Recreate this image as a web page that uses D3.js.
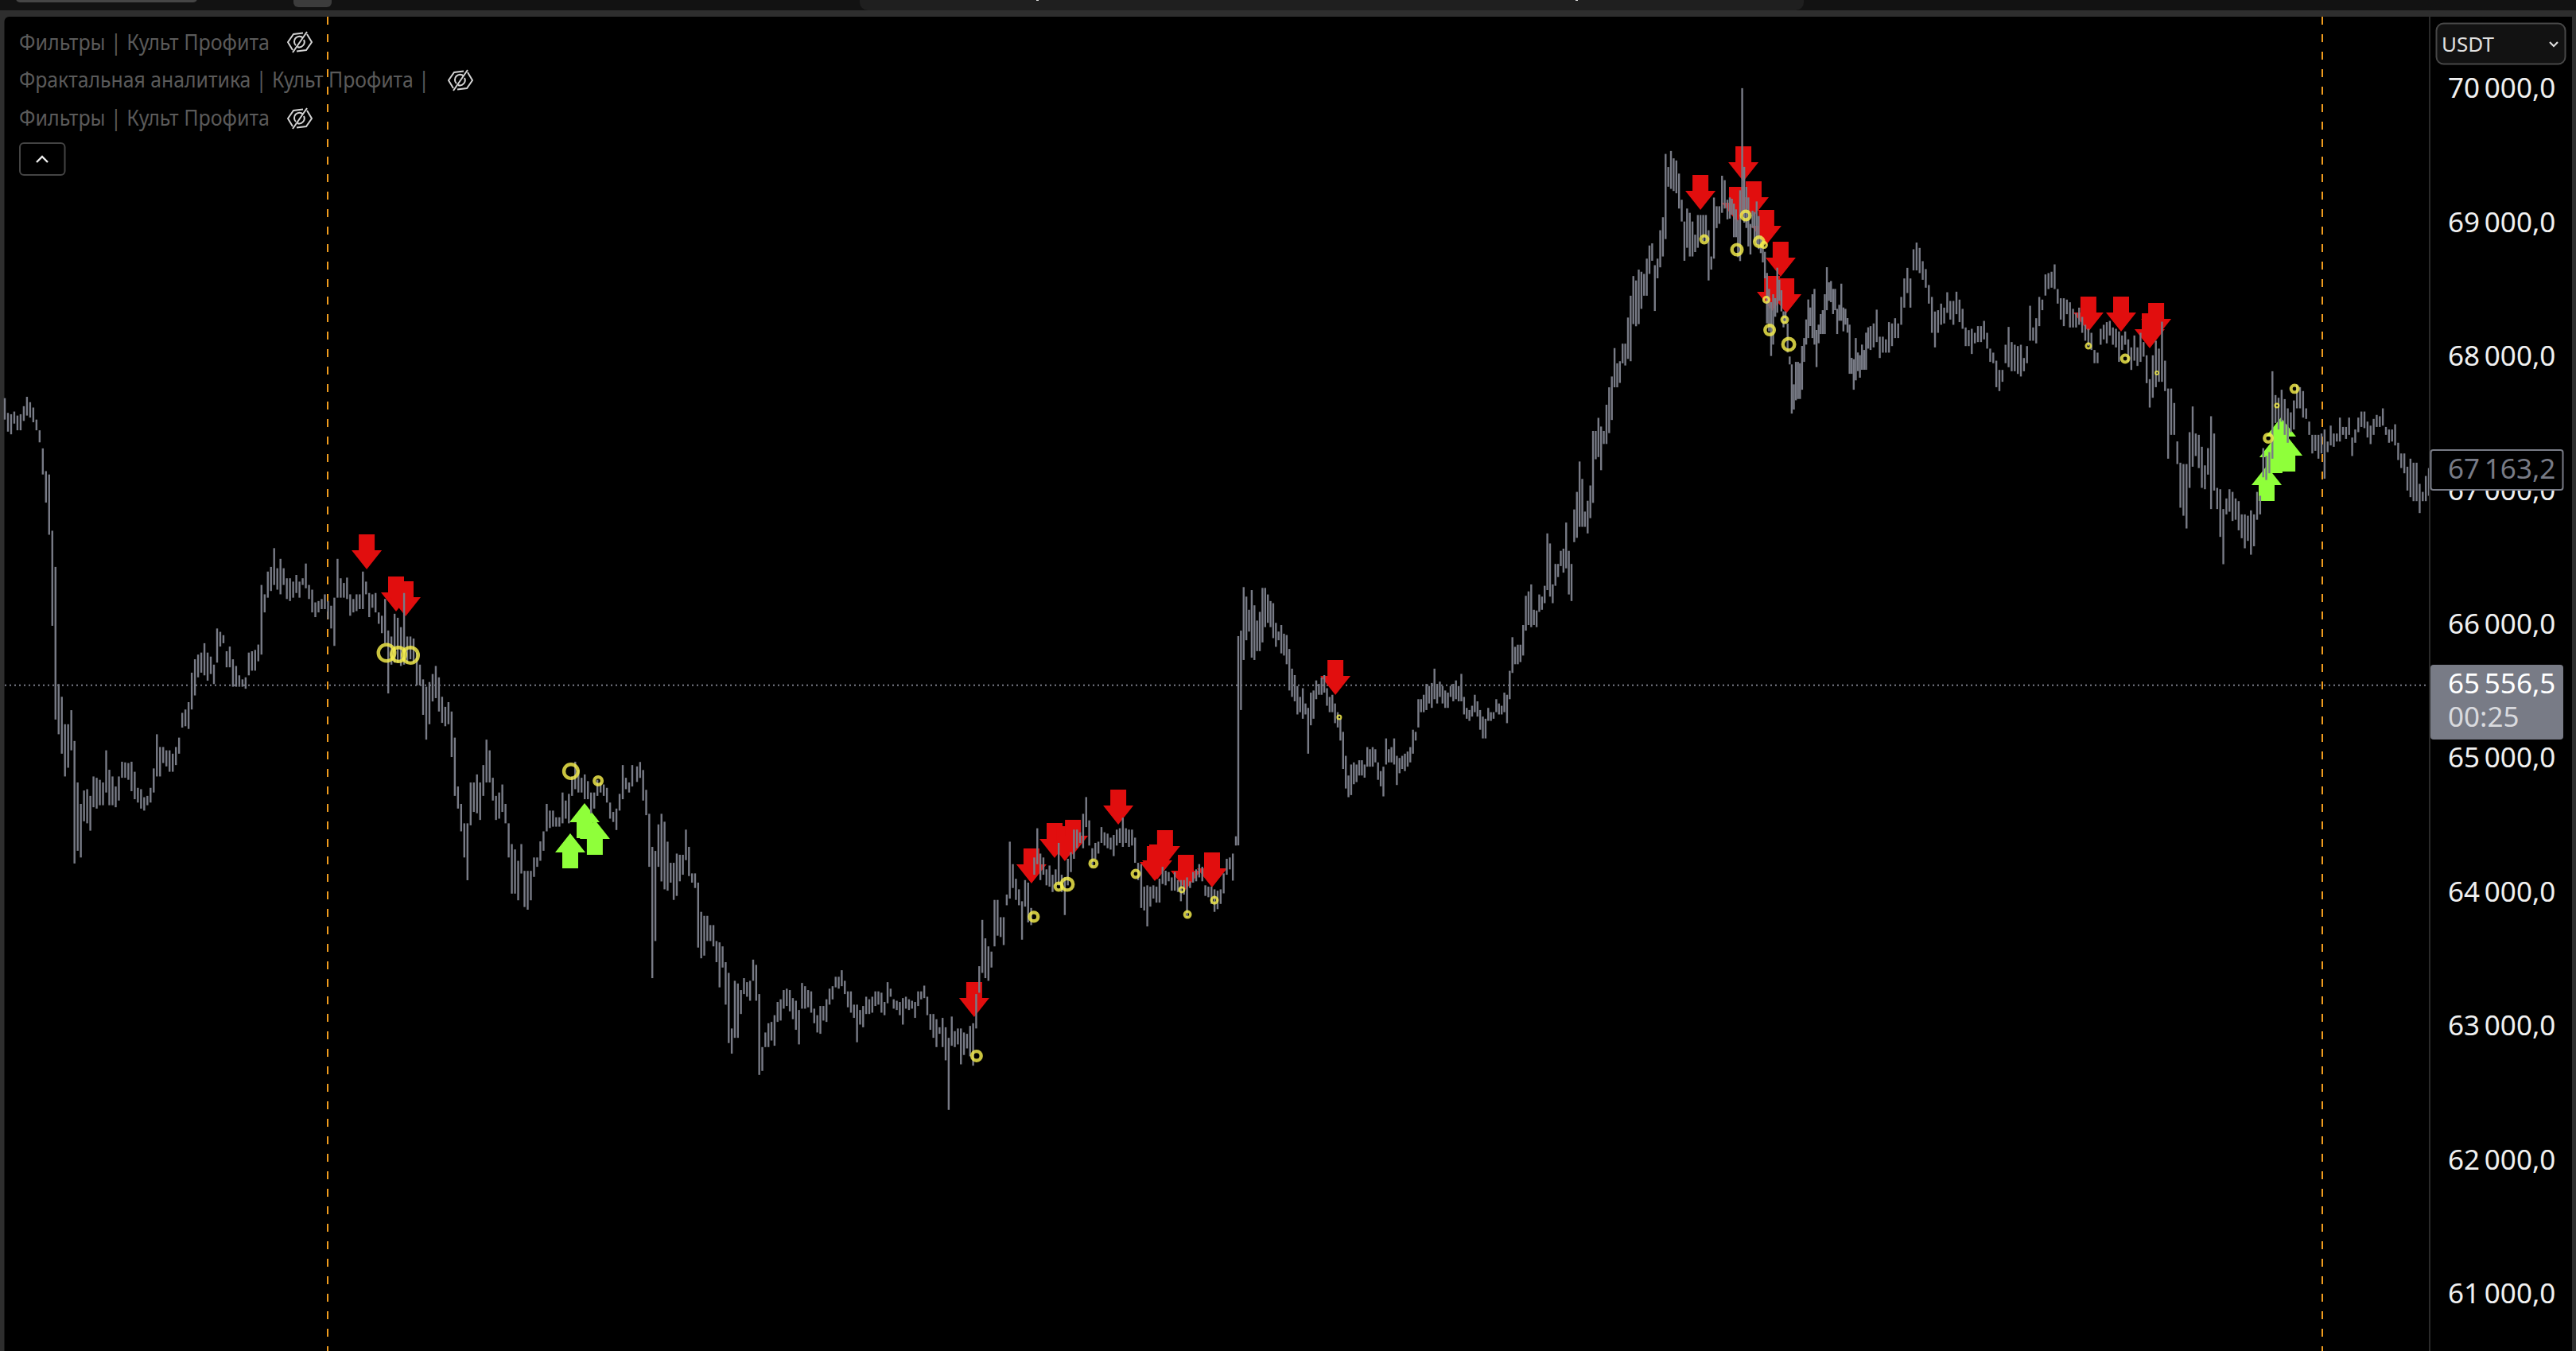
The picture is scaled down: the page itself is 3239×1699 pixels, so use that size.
<!DOCTYPE html>
<html>
<head>
<meta charset="utf-8">
<style>
html,body{margin:0;padding:0;background:#2e2e2e;overflow:hidden}
svg{display:block}
</style>
<script src="https://cdn.jsdelivr.net/npm/d3@7"></script>
</head>
<body>
<div id="chart"></div>
<script>
const rangesA = [67700,67540,67590,67450,67580,67430,67600,67510,67570,67460,67580,67460,67640,67530,67710,67570,67670,67555,67630,67520,67540,67460,67460,67370,67325,67130,67155,66920,67130,66680,66710,66000,66440,65300,65565,65190,65470,65045,65265,64875,65265,64940,65370,65070,65140,64225,64830,64320,64670,64270,64770,64540,64780,64525,64730,64470,64875,64645,64865,64635,64850,64660,64830,64660,65070,64755,64925,64660,64875,64660,64800,64645,64875,64695,64985,64865,64980,64865,64975,64850,64985,64765,64910,64705,64790,64680,64780,64635,64720,64620,64730,64660,64790,64680,64935,64755,65190,64875,65095,64875,65095,64975,65070,64950,65070,64910,65045,64910,65095,64960,65165,65045,65350,65240,65375,65250,65430,65230,65650,65375,65750,65480,65785,65615,65800,65650,65870,65630,65800,65590,65770,65640,65710,65565,65980,65725,65955,65845,65930,65870,65810,65690,65845,65690,65750,65545,65700,65545,65630,65545,65600,65545,65615,65530,65800,65630,65810,65665,65820,65665,65860,65735,66305,65785,66235,66100,66405,66210,66440,66260,66580,66305,66430,66270,66500,66235,66430,66305,66355,66200,66355,66185,66330,66210,66380,66245,66330,66210,66355,66305,66465,66280,66305,66200,66270,66100,66175,66065,66185,66100,66200,66125,66235,66125,66185,66050,66150,65980,66210,65850,66500,66210,66355,66210,66320,66210,66360,66200,66235,66075,66200,66100,66235,66110,66235,66125,66405,66125,66330,66235,66245,66065,66235,66135,66245,66100,66100,66015,66075,65945,66200,65870,65965,65495,65920,65710,66090,65725,66060,65725,65990,65700,66245,65710,65920,65725,65920,65750,65905,65725,65800,65555,65710,65555,65600,65335,65545,65150,65580,65265,65640,65435,65700,65460,65615,65360,65470,65275,65395,65250,65430,65265,65360,65020,65165,64730,64800,64635,64670,64465,64525,64270,64525,64100,64830,64510,64830,64610,64890,64600,64830,64550,64960,64730,65150,64830,65070,64830,64865,64695,64730,64550,64755,64560,64815,64610,64670,64525,64525,64270,64370,64000,64330,64000,64245,63950,64370,64150,64170,63900,64170,63880,64170,63950,64270,64125,64270,64200,64390,64245,64465,64320,64670,64465,64620,64490,64620,64500,64570,64500,64570,64500,64755,64525,64695,64560,64745,64525,64875,64730,64985,64780,64925,64755,64865,64755,64890,64705,64840,64705,64755,64600,64755,64635,64850,64730,64830,64755,64815,64730,64790,64680,64680,64560,64610,64535,64635,64475,64745,64620,64960,64705,64865,64780,64830,64755,64960,64800];
const rangesB = [64950,64834,64983,64864,64923,64695,64775,64586,64596,64200,64349,63369,64319,63646,64517,64200,64596,64091,64537,64032,64388,64022,64230,64082,64230,63953,64299,63983,64290,64092,64290,64141,64478,64250,64349,64131,64151,64082,64151,64042,64082,63597,63864,63517,63834,63537,63834,63646,63765,63646,63765,63606,63646,63488,63636,63300,63606,63448,63488,63171,63408,62884,62993,62805,63349,62923,63329,62923,63280,63101,63369,63250,63339,63230,63349,63200,63507,63349,63468,63200,63250,62646,62854,62676,62963,62854,63032,62854,63042,62903,63092,62864,63191,63042,63211,63052,63280,63141,63290,63161,63280,63121,63220,63062,63200,62983,63131,62874,63333,63141,63309,63141,63280,63151,63270,63111,63141,63032,63092,62963,63161,62953,63161,63052,63211,63042,63290,63171,63309,63210,63379,63300,63379,63290,63428,63309,63349,63250,63270,63151,63270,63111,63171,63072,63171,62890,63131,63022,63161,63002,63230,63101,63211,63101,63230,63111,63270,63161,63270,63171,63260,63111,63191,63092,63339,63181,63290,63230,63211,63141,63200,63131,63191,63092,63220,63022,63230,63141,63211,63131,63200,63141,63191,63072,63270,63161,63270,63210,63313,63220,63230,63092,63101,62983,63101,62923,63062,62854,63002,62953,63072,62854,63002,62755,62923,62385,63082,62864,62973,62854,62993,62874,62993,62725,62963,62795,62953,62844,63012,62785,63032,62715,63250,62993,63458,63260,63804,63408,63666,63369,63606,63349,63567,63448,63953,63606,63953,63686,63824,63676,63824,63616,63993,63913,64388,63963,64220,64042,64111,63953,64032,63913,63943,63656,64101,63903,64082,63785,63893,63765,64270,64141,64488,64220,64299,64101,64270,64141,64181,64062,64210,64052,64141,64012,64181,64062,64379,64062,64141,64012,64121,63840,64260,64062,64309,64161,64478,64260,64478,64339,64458,64379,64596,64339,64721,64497,64547,64359,64339,64200,64379,64260,64388,64299,64497,64379,64458,64359,64448,64339,64418,64329,64438,64280,64478,64359,64488,64379,64567,64349,64488,64379,64478,64349,64478,64359,64418,64230,64230,64101,64220,63893,64052,63874,64062,63755,64052,63903,64062,63963,64052,63933,64111,63933,64200,64072,64171,64062,64161,64092,64121,64022,64161,64022,64101,64012,64101,63943,64101,63993,64121,63824,64092,64042,64161,64082,64181,64092,64220,64121,64200,64092,64062,63983,64052,63973,64052,63923,64032,63864,64022,63884,64032,63923,64151,64002,64260,64141,64270,64181,64299,64097,64428,64359];
const rangesC = [65923,64360,65964,65371,66289,65745,66218,65892,66120,65957,66267,65762,66153,65745,66039,65811,66104,65811,66283,65876,66283,65990,66234,66022,66185,65990,66169,65908,66022,65843,65957,65892,66006,65794,65941,65778,65931,65713,65827,65517,65680,65469,65632,65436,65550,65338,65469,65355,65534,65306,65420,65338,65387,65045,65501,65257,65517,65306,65592,65452,65566,65485,65615,65485,65632,65501,65534,65403,65469,65355,65485,65355,65420,65273,65355,65241,65306,65143,65208,64931,65029,64785,64882,64720,64964,64736,64980,64817,64964,64833,64996,64882,64996,64882,64964,64866,65094,64948,65078,64948,65094,64948,65078,64980,64980,64850,64915,64801,64948,64726,65159,64964,65078,64980,65094,64980,65159,64964,65029,64811,65013,64899,65029,64931,65045,64915,65061,64948,65094,64980,65224,65045,65208,65143,65452,65241,65452,65355,65485,65355,65566,65371,65550,65420,65573,65387,65680,65452,65566,65420,65583,65469,65550,65420,65517,65387,65501,65387,65550,65469,65566,65436,65592,65452,65550,65436,65641,65436,65469,65338,65387,65306,65371,65290,65403,65322,65485,65355,65436,65322,65371,65224,65322,65159,65306,65159,65387,65290,65355,65290,65355,65306,65452,65355,65420,65338,65403,65338,65501,65355,65485,65273,65664,65452,65915,65648,65843,65713,65859,65713,65859,65729,66006,65778,66224,65964,66257,66006,66309,65990,66120,66006,66114,65990,66234,66104,66218,66120,66299,66169,66690,66267,66615,66218,66309,66169,66462,66299,66462,66364,66560,66446,66576,66397,66771,66429,66560,66234,66462,66185,66869,66625,67000,66657,67227,66739,67097,66739,66853,66739,66934,66690,67048,66804,67455,66918,67455,67244,67553,67260,67488,67162,67455,67358,67651,67358,67781,67439,67862,67537,68074,67781,67960,67781,67976,67814,68107,67960,68107,67944,68302,67993,68465,67976,68612,68253,68579,68237,68660,68253,68644,68367,68628,68465,68742,68465,68840,68628,68856,68726,68693,68351,68742,68595,68954,68677,69051,68758,69524,68888,69426,69279,69546,69263,69491,69247,69475,69230,69377,69116,69182,69019,69019,68726,69116,68823,69084,68758,69019,68758,68921,68791,69068,68823,69068,68905,69068,68872,69068,68872,68954,68579,68758,68660,69198,68742,69133,68970,69133,69002,69361,69084,69328,69116,69182,69035];
const rangesD = [69199,69041,69189,69070,69153,68902,69110,68902,69031,68753,69252,68724,70015,69080,69427,69011,69278,68971,69199,68833,69001,68773,69100,68971,69090,68872,69169,68842,69060,68813,68912,68783,68882,68714,68793,68595,68635,68258,68516,68199,68417,68015,68476,68100,68447,68308,68674,68338,68585,68427,68506,68348,68348,68229,68348,68258,68258,68041,68011,67952,67952,67585,67803,67615,67971,67684,67971,67694,67961,67694,68090,67763,68149,67971,68288,68100,68437,68149,68377,68239,68476,68149,68516,68100,68209,67932,68249,68110,68328,68179,68357,68179,68476,68179,68678,68357,68565,68427,68575,68417,68516,68328,68516,68357,68367,68179,68397,68278,68555,68278,68377,68199,68367,68249,68298,68189,68249,67882,68001,67882,67991,67763,68149,67833,68041,67902,68021,67853,68100,67912,68060,67912,68189,67912,68229,68070];
const rangesE = [68238,68060,68258,68079,68361,68119,68159,68000,68159,68040,68139,68040,68268,68040,68258,68089,68297,68149,68258,68149,68456,68248,68594,68376,68673,68485,68594,68376,68812,68654,68862,68654,68822,68634,68723,68584,68664,68525,68545,68406,68456,68188,68347,68079,68357,68188,68406,68248,68376,68258,68491,68337,68426,68287,68426,68248,68495,68327,68436,68268,68367,68218,68228,68089,68208,68089,68218,68030,68188,68109,68238,68119,68238,68119,68277,68139,68188,68070,68070,67971,68040,67961,67980,67782,67911,67753,67911,67822,68099,67961,68232,67931,68119,67901,68099,67901,68089,67881,68099,67862,68000,67901,68089,67961,68390,68129,68228,68129,68297,68109,68456,68238,68436,68357,68624,68466,68634,68515,68644,68525,68699,68515,68515,68406,68446,68287,68446,68238,68436,68327,68416,68228,68367,68228,68337,68228,68376,68248,68307,68188,68248,68129,68218,68089,68188,68060,68060,67961,68040,67961,68218,68099,68248,68139,68268,68109,68277,68168,68228,68099,68218,68079,68198,67971,68168,68060,68198,68099,68139,67971,68079,67911,68168,67980,68079,67941,68188,67971,68119,68010,68020,67812,67842,67630,68020,67703,68129,67782,68070,67822,68271,67822,67980,67753,67772,67248,67772,67426,67664,67426,67377,67208,67218,66882,67208,66822,67208,66727,67446,67030,67638,67188,67436,67268,67426,67178,67337,67030,67198,67020,67327,67129,67565,66872,67436,67010,67030,66872,67020,66664,66872,66460,66951,66832,67020,66852,67000,66783,66951,66792,66931,66713,66832,66654,66832,66579,66822,66634,66862,66531,66832,66594,67000,66792,66971,66832,67327,67109,67268,67089,67297,67139,67901,67248,67723,67515,67703,67466,67763,67525,67693,67426,67624,67367,67594,67446,67683,67466,67802,67624,67782,67624,67753,67555,67624,67545,67525,67426,67426,67287,67426,67307,67426,67248,67436,67287,67466,67099,67376,67297,67495,67347,67436,67337,67436,67376,67555,67376,67485,67426,67485,67396,67555,67426,67406,67268,67466,67367,67555,67446,67600,67485,67600,67476,67525,67406,67495,67357,67545,67426,67575,67485,67565,67485,67624,67495,67485,67426,67466,67367,67466,67376,67505,67347,67367,67238,67287,67178,67287,67139,67188,67010,67248,66961,67218,66931,67218,66931,67060,66842,67000,66931,67119,66931,67178,66971];
// first and last bar number each section of ranges covers
const sectionSpans = [[rangesA,0,263],[rangesB,265,516],[rangesC,517,722],[rangesD,723,781],[rangesE,782,1016]];

// signal markers: bar number, price
const sellSignals = [[151.7,66422],[164,66107],[168,66071],[406.3,63078],[430.3,64076],[440,64266],[444.3,64242],[447.7,64290],[466.7,64515],[486.3,64213],[482,64094],[483,64106],[495,64029],[506,64046],[557.7,65483],[710.7,69106],[728.7,69319],[726,69016],[733,69058],[738.3,68844],[744.3,68607],[740.7,68351],[746.7,68334],[873.3,68197],[887,68197],[901.7,68150],[899,68072]];
const buySignals = [[237,64450],[243,64676],[247.3,64551],[948,67194],[951.3,67401],[956.7,67413],[954,67556]];
// bar number, price, strength
const rings = [[160,65798,89],[165,65786,79],[170,65780,86],[237.3,64913,79],[248.7,64842,50],[407.3,62788,57],[431.3,63827,54],[456.3,64225,46],[441.7,64052,46],[445.3,64070,68],[474,64147,46],[493.3,64029,32],[495.7,63844,39],[507,63951,39],[559.3,65317,25],[712.3,68886,46],[726,68809,61],[729.7,69064,54],[735.3,68868,57],[737.3,68844,36],[738.3,68435,36],[739.7,68209,57],[746,68286,39],[747.7,68102,68],[873.3,68090,32],[888.7,67995,46],[902,67888,21],[948.7,67401,50],[952.3,67645,25],[959.7,67770,46]];

const priceTicks = [70000,69000,68000,67000,66000,65000,64000,63000,62000,61000];
const lastPrice = 65556.5;
const markPrice = 67163.2;
const countdown = "00:25";
const sessionBars = [135.33,971.33];
const legendLabels = ["Фильтры | Культ Профита","Фрактальная аналитика | Культ Профита |","Фильтры | Культ Профита"];
const currencyLabel = "USDT";

// ---- LAYOUT ----
const W = 3239, H = 1699, axisX = 3055;
const x = d3.scaleLinear().domain([0,1016]).range([6,3054]);
const y = d3.scaleLinear().domain([61000,70000]).range([1629,113.4]);
const ringR = d3.scaleLinear().domain([0,100]).range([0,14]);
const fmt = d3.formatLocale({decimal:",",thousands:"\u2009",grouping:[3],currency:["",""]}).format(",.1f");

const GREY = "#787b86", RED = "#e10e0e", GREEN = "#8fff3a", YELLOW = "#f7ef4d";
const FONT = "'Noto Sans',sans-serif";
const AXIS_SIZE = 35;

const svg = d3.select("#chart").append("svg").attr("width",W).attr("height",H);

// window chrome
svg.append("rect").attr("width",W).attr("height",H).attr("fill","#2e2e2e");
svg.append("rect").attr("width",W).attr("height",13).attr("fill","#121212");
svg.append("rect").attr("x",1081).attr("y",-10).attr("width",1187).attr("height",23).attr("rx",10).attr("fill","#1f1f1f");
svg.append("rect").attr("x",20).attr("y",-8).attr("width",228).attr("height",11).attr("rx",5).attr("fill","#454545");
svg.append("rect").attr("x",369).attr("y",-8).attr("width",48).attr("height",17).attr("rx",6).attr("fill","#3c3c3c");
[1303,1981].forEach(px=>svg.append("rect").attr("x",px).attr("y",0).attr("width",3).attr("height",1).attr("fill","#ddd"));
svg.append("rect").attr("x",5.5).attr("y",21).attr("width",3234-5.5).attr("height",H).attr("rx",6).attr("fill","#000");

const plot = svg.append("g");

// last price line
plot.append("line").attr("x1",6).attr("x2",3050).attr("y1",y(lastPrice)).attr("y2",y(lastPrice))
  .attr("stroke",GREY).attr("stroke-width",2).attr("stroke-dasharray","2 4");

// session lines
plot.selectAll("line.session").data(sessionBars).join("line").attr("class","session")
  .attr("x1",d=>Math.round(x(d))).attr("x2",d=>Math.round(x(d))).attr("y1",21).attr("y2",H)
  .attr("stroke","#f09c1e").attr("stroke-width",2).attr("stroke-dasharray","10 12");

// arrows: tip at the signal price
function arrowPath(dir){ // dir 1 = down (tip at origin, body above), -1 = up
  const s = dir;
  return `M0,0L19,${-24*s}L10,${-24*s}L10,${-44*s}L-10,${-44*s}L-10,${-24*s}L-19,${-24*s}Z`;
}
plot.selectAll("path.sell").data(sellSignals).join("path").attr("class","sell")
  .attr("d",arrowPath(1)).attr("fill",RED)
  .attr("transform",d=>`translate(${x(d[0])},${y(d[1])})`);
plot.selectAll("path.buy").data(buySignals).join("path").attr("class","buy")
  .attr("d",arrowPath(-1)).attr("fill",GREEN)
  .attr("transform",d=>`translate(${x(d[0])},${y(d[1])})`);

// bars
const bars = sectionSpans.flatMap(([vals,a,b])=>{
  const n = vals.length/2;
  return d3.range(n).map(i=>({
    bar: n>1 ? a+(b-a)*i/(n-1) : a,
    high: vals[2*i],
    low: vals[2*i+1]
  }));
});
plot.selectAll("rect.bar").data(bars).join("rect").attr("class","bar")
  .attr("x",d=>x(d.bar)-1.2).attr("width",2.4)
  .attr("y",d=>y(d.high)).attr("height",d=>y(d.low)-y(d.high))
  .attr("fill",GREY);

// rings, semi-transparent so the bars show through them as in the reference
const ringStroke = d => Math.min(4.4, ringR(d[2])*0.62);
plot.selectAll("circle.ring").data(rings).join("circle").attr("class","ring")
  .attr("cx",d=>x(d[0])).attr("cy",d=>y(d[1]))
  .attr("r",d=>ringR(d[2])-ringStroke(d)/2)
  .attr("fill","none").attr("stroke",YELLOW).attr("stroke-opacity",0.82)
  .attr("stroke-width",ringStroke);

// price axis
svg.append("rect").attr("x",axisX).attr("y",21).attr("width",179).attr("height",H).attr("fill","#000");
svg.append("rect").attr("x",axisX-1).attr("y",21).attr("width",2).attr("height",H).attr("fill","#2a2a2a");
const axis = svg.append("g").attr("transform",`translate(${axisX+23},0)`)
  .call(d3.axisRight(y).tickValues(priceTicks).tickSize(0).tickPadding(0).tickFormat(fmt));
axis.select(".domain").remove();
axis.selectAll("text").attr("fill","#f0f0f0").attr("font-family",FONT).attr("font-size",AXIS_SIZE)
  .attr("text-anchor","start").attr("dy",null).attr("dominant-baseline","central").attr("y",-4);

// mark price tag (drawn over the 67 000 tick label, as in the reference)
svg.append("rect").attr("x",3056.5).attr("y",566).attr("width",166).attr("height",50).attr("rx",3)
  .attr("fill","#000").attr("stroke",GREY).attr("stroke-width",2);
svg.append("text").attr("x",3078).attr("y",588).attr("fill",GREY).attr("font-family",FONT).attr("font-size",AXIS_SIZE)
  .attr("dominant-baseline","central").text(fmt(markPrice));

// last price tag
svg.append("rect").attr("x",3056).attr("y",836).attr("width",167).attr("height",94).attr("rx",4).attr("fill",GREY);
svg.append("text").attr("x",3078).attr("y",858).attr("fill","#fff").attr("font-family",FONT).attr("font-size",AXIS_SIZE)
  .attr("dominant-baseline","central").text(fmt(lastPrice));
svg.append("text").attr("x",3078).attr("y",900).attr("fill","#d9dade").attr("font-family",FONT).attr("font-size",AXIS_SIZE)
  .attr("dominant-baseline","central").text(countdown);

// currency selector
svg.append("rect").attr("x",3063.5).attr("y",29.5).attr("width",162).attr("height",51).attr("rx",9)
  .attr("fill","#121212").attr("stroke","#474747").attr("stroke-width",2);
svg.append("text").attr("x",3070).attr("y",55).attr("fill","#e0e0e0").attr("font-family",FONT).attr("font-size",26)
  .attr("dominant-baseline","central").text(currencyLabel);
svg.append("path").attr("d","M3206,53L3211,58L3216,53").attr("fill","none").attr("stroke","#ddd").attr("stroke-width",2.2);

// legend
const legendY = [52,99,147], iconY = [53,101,149], legendW = [315,516,315], iconX = [377,579,377];
legendLabels.forEach((t,i)=>{
  svg.append("text").attr("x",24).attr("y",legendY[i]).attr("fill","#5a5a5a")
    .attr("font-family",FONT).attr("font-size",27).attr("dominant-baseline","central")
    .attr("textLength",legendW[i]).attr("lengthAdjust","spacingAndGlyphs").text(t);
  const g = svg.append("g").attr("transform",`translate(${iconX[i]},${iconY[i]})`)
    .attr("fill","none").attr("stroke","#d4d4d4").attr("stroke-width",2);
  g.append("path").attr("d","M-9,10L-15,0L-8,-10L4,-11.5M9,-10L15,0L8,10L-4,11.5");
  g.append("path").attr("d","M-5,4A6.5,6.5 0 0 1 4,-5.5M5,-3A6.5,6.5 0 0 1 -3,6");
  g.append("path").attr("d","M-9,13L9,-13");
});
// collapse button
svg.append("rect").attr("x",25).attr("y",180).attr("width",56.5).attr("height",40).attr("rx",5)
  .attr("fill","#000").attr("stroke","#444").attr("stroke-width",2);
svg.append("path").attr("d","M46,204L53,197L60,204").attr("fill","none").attr("stroke","#eee").attr("stroke-width",2.4);
</script>
</body>
</html>
